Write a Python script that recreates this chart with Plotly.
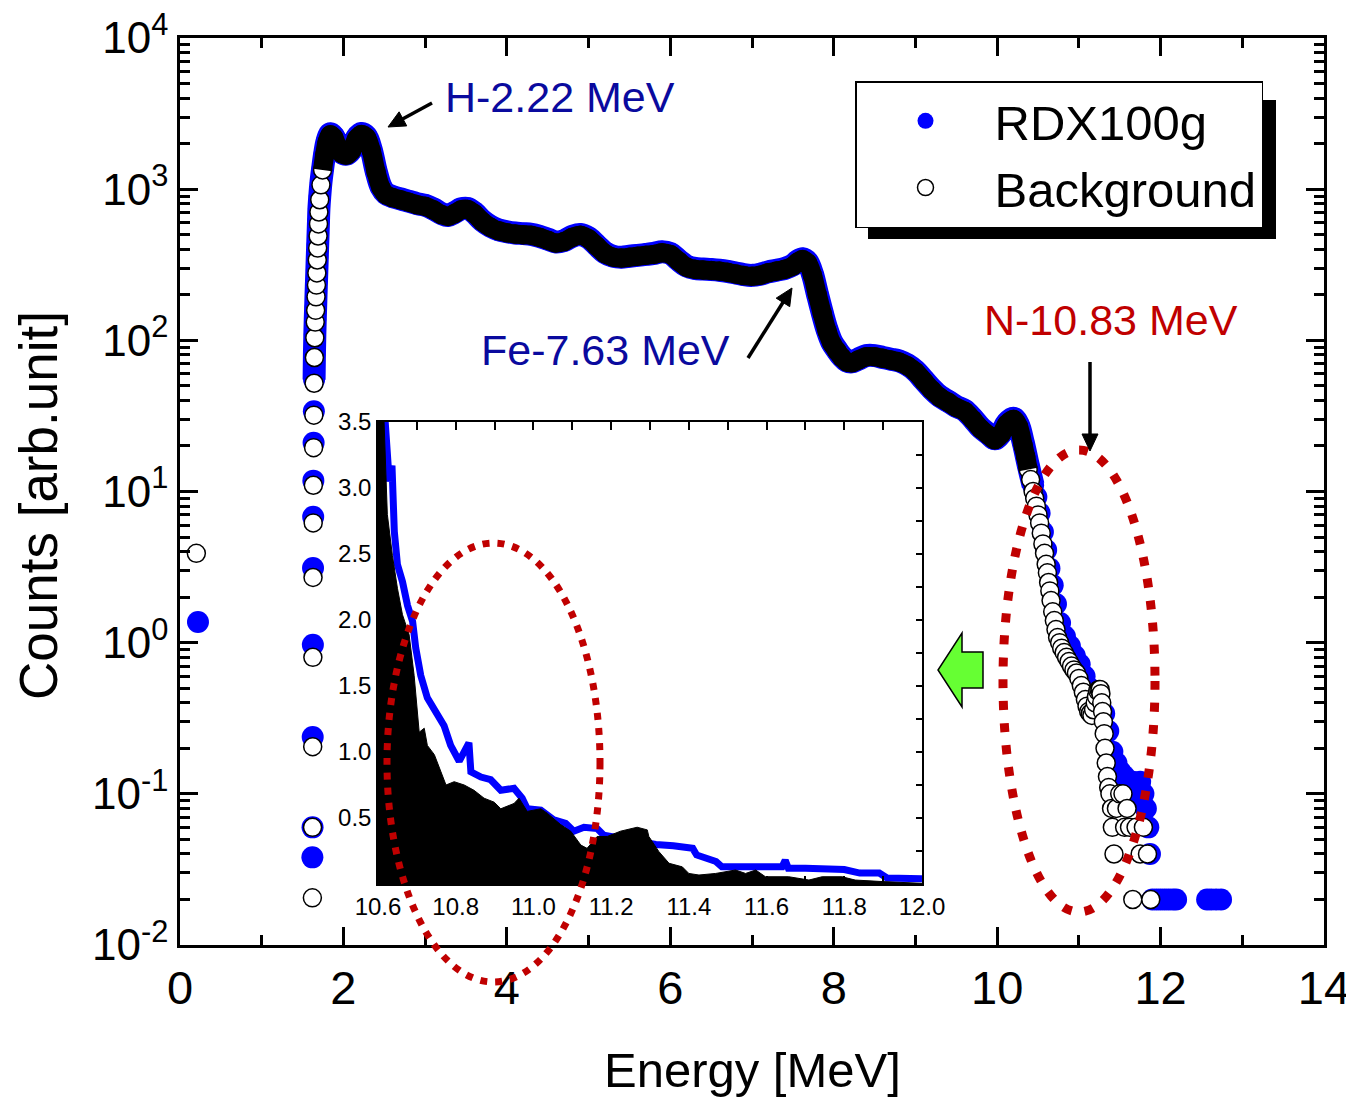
import math
import plotly.graph_objects as go

# ---------------- data ----------------
# Main spectrum: Background
bg_E = [0.20, 1.620, 1.622, 1.624, 1.626, 1.628, 1.630, 1.632, 1.635, 1.638, 1.641, 1.645,
        1.650, 1.655, 1.660, 1.665, 1.670, 1.675, 1.680, 1.685, 1.690, 1.695, 1.700, 1.710,
        1.725, 1.745, 1.77, 1.80, 1.84, 1.88, 1.93, 1.98, 2.04, 2.10, 2.16, 2.22, 2.28, 2.34,
        2.40, 2.46, 2.52, 2.60, 2.70, 2.80, 2.90, 3.00, 3.10, 3.20, 3.28, 3.36, 3.44, 3.52,
        3.60, 3.70, 3.80, 3.90, 4.00, 4.10, 4.20, 4.30, 4.40, 4.50, 4.60, 4.70, 4.80, 4.90,
        5.00, 5.10, 5.20, 5.30, 5.40, 5.50, 5.60, 5.70, 5.80, 5.90, 6.00, 6.10, 6.20, 6.30,
        6.40, 6.50, 6.60, 6.70, 6.80, 6.90, 7.00, 7.10, 7.20, 7.30, 7.40, 7.50, 7.56, 7.62,
        7.68, 7.74, 7.80, 7.86, 7.92, 7.98, 8.04, 8.10, 8.16, 8.22, 8.30, 8.40, 8.50, 8.60,
        8.70, 8.80, 8.90, 9.00, 9.10, 9.20, 9.30, 9.40, 9.50, 9.60, 9.70, 9.80, 9.90, 9.97,
        10.05, 10.12, 10.20, 10.26, 10.32, 10.35, 10.38, 10.41, 10.44, 10.46, 10.48, 10.50,
        10.52, 10.54, 10.56, 10.58, 10.60, 10.615, 10.63, 10.645, 10.66, 10.68, 10.70, 10.72,
        10.74, 10.765, 10.79, 10.82, 10.85, 10.88, 10.91, 10.94, 10.97, 11.00, 11.03, 11.055,
        11.08, 11.10, 11.12, 11.14, 11.16, 11.18, 11.20, 11.215, 11.23, 11.245, 11.26, 11.27,
        11.28, 11.29, 11.30, 11.31, 11.32, 11.335, 11.35, 11.365, 11.38, 11.40, 11.41, 11.43,
        11.46, 11.50, 11.54, 11.56, 11.59, 11.62, 11.66, 11.70, 11.75, 11.79, 11.84, 11.88]
bg_counts = [3.9, 0.0205, 0.06, 0.205, 0.8, 2.7, 6.2, 11, 19.5, 32, 52, 77,
             104, 132, 158, 194, 232, 279, 340, 408, 490, 589, 706, 851,
             1068, 1340, 1680, 2050, 2290, 2200, 1900, 1720, 1680, 1800, 2150, 2300, 2200, 1800,
             1300, 1020, 920, 880, 850, 820, 790, 770, 730, 680, 660, 690, 730, 735,
             690, 610, 560, 530, 515, 505, 500, 495, 480, 460, 440, 450, 480, 495,
             470, 420, 375, 355, 350, 355, 360, 365, 370, 380, 370, 335, 305, 295,
             292, 290, 287, 282, 275, 268, 265, 270, 280, 287, 295, 310, 330, 342,
             325, 270, 200, 150, 115, 95, 85, 77, 72, 71, 74, 78, 78, 76,
             74, 72, 68, 62, 54, 47, 42, 39, 36, 34, 30, 26, 23.5, 22,
             24, 28, 30, 27, 20, 17, 14, 12, 10, 9, 8, 7,
             6.2, 5.3, 4.5, 3.9, 3.3, 2.9, 2.5, 2.2, 1.9, 1.6, 1.4, 1.22,
             1.08, 1.0, 0.92, 0.86, 0.80, 0.75, 0.70, 0.66, 0.63, 0.58, 0.52, 0.47,
             0.42, 0.38, 0.35, 0.34, 0.33, 0.36, 0.40, 0.44, 0.48, 0.49, 0.49, 0.46,
             0.40, 0.35, 0.30, 0.25, 0.20, 0.16, 0.13, 0.11, 0.10, 0.08, 0.06, 0.04,
             0.08, 0.10, 0.10, 0.06, 0.08, 0.06, 0.02, 0.06, 0.04, 0.06, 0.04, 0.02]

# Main spectrum: RDX100g
rdx_E = [0.22, 1.620, 1.622, 1.624, 1.626, 1.628, 1.630, 1.632, 1.635, 1.638, 1.641, 1.645,
         1.650, 1.655, 1.660, 1.665, 1.670, 1.675, 1.680, 1.685, 1.690, 1.695, 1.700, 1.710,
         1.725, 1.745, 1.77, 1.80, 1.84, 1.88, 1.93, 1.98, 2.04, 2.10, 2.16, 2.22, 2.28, 2.34,
         2.40, 2.46, 2.52, 2.60, 2.70, 2.80, 2.90, 3.00, 3.10, 3.20, 3.28, 3.36, 3.44, 3.52,
         3.60, 3.70, 3.80, 3.90, 4.00, 4.10, 4.20, 4.30, 4.40, 4.50, 4.60, 4.70, 4.80, 4.90,
         5.00, 5.10, 5.20, 5.30, 5.40, 5.50, 5.60, 5.70, 5.80, 5.90, 6.00, 6.10, 6.20, 6.30,
         6.40, 6.50, 6.60, 6.70, 6.80, 6.90, 7.00, 7.10, 7.20, 7.30, 7.40, 7.50, 7.56, 7.62,
         7.68, 7.74, 7.80, 7.86, 7.92, 7.98, 8.04, 8.10, 8.16, 8.22, 8.30, 8.40, 8.50, 8.60,
         8.70, 8.80, 8.90, 9.00, 9.10, 9.20, 9.30, 9.40, 9.50, 9.60, 9.70, 9.80, 9.90, 9.97,
         10.05, 10.12, 10.20, 10.26, 10.32, 10.38, 10.44, 10.48, 10.52, 10.56, 10.60, 10.64,
         10.68, 10.72, 10.77, 10.83, 10.89, 10.95, 11.01, 11.07, 11.13, 11.19, 11.25, 11.31,
         11.36, 11.41, 11.46, 11.51, 11.56, 11.61, 11.66, 11.71, 11.75, 11.79, 11.82, 11.85,
         11.87, 11.90, 11.95, 12.00, 12.05, 12.10, 12.15, 12.19, 12.57, 12.62, 12.68, 12.74]
rdx_counts = [1.37, 0.038, 0.06, 0.238, 0.967, 3.12, 6.8, 11.8, 21, 34, 55, 81,
              109, 138, 166, 203, 243, 292, 356, 427, 512, 616, 738, 890,
              1110, 1360, 1705, 2080, 2325, 2235, 1930, 1745, 1705, 1830, 2180, 2335, 2235, 1830,
              1320, 1035, 935, 893, 863, 832, 802, 782, 741, 690, 670, 700, 741, 746,
              700, 619, 568, 538, 523, 513, 508, 502, 487, 467, 447, 457, 487, 502,
              477, 426, 381, 360, 355, 360, 365, 370, 376, 386, 376, 340, 310, 299,
              296, 294, 291, 286, 279, 272, 269, 274, 284, 291, 299, 315, 335, 347,
              330, 274, 203, 152, 117, 96.5, 86.3, 78.2, 73.1, 72, 75.1, 79.2, 79.2, 77.1,
              75.1, 73.1, 69, 62.9, 54.8, 47.7, 42.6, 39.6, 36.5, 34.5, 30.5, 26.4, 23.9, 22.3,
              24.4, 28.4, 30.5, 27.6, 21, 15, 11, 9.2, 7.2, 5.4, 4.1, 3.1,
              2.4, 1.8, 1.35, 1.1, 0.95, 0.82, 0.72, 0.60, 0.50, 0.44, 0.40, 0.34,
              0.26, 0.19, 0.16, 0.14, 0.13, 0.12, 0.12, 0.10, 0.12, 0.10, 0.08, 0.06,
              0.04, 0.02, 0.02, 0.02, 0.02, 0.02, 0.02, 0.02, 0.02, 0.02, 0.02, 0.02]

# Inset (10.6 - 12.0 MeV, linear scale)
inset_rdx_E = [10.600, 10.616, 10.629, 10.636, 10.642, 10.650, 10.663, 10.676, 10.689, 10.697,
               10.710, 10.727, 10.749, 10.770, 10.787, 10.809, 10.834, 10.839, 10.865, 10.890,
               10.916, 10.950, 10.971, 10.984, 11.019, 11.053, 11.083, 11.104, 11.130, 11.164,
               11.181, 11.230, 11.280, 11.315, 11.360, 11.410, 11.420, 11.445, 11.470, 11.485,
               11.540, 11.600, 11.640, 11.648, 11.656, 11.700, 11.750, 11.800, 11.840, 11.890,
               11.910, 11.950, 12.000]
inset_rdx_counts = [4.3, 3.5, 3.05, 3.17, 2.67, 2.42, 2.29, 2.11, 1.99, 1.79,
                    1.58, 1.41, 1.31, 1.20, 1.05, 0.93, 1.07, 0.85, 0.81, 0.79,
                    0.71, 0.725, 0.65, 0.57, 0.56, 0.485, 0.46, 0.40, 0.43, 0.42,
                    0.37, 0.34, 0.31, 0.30, 0.29, 0.27, 0.22, 0.20, 0.17, 0.13,
                    0.13, 0.13, 0.13, 0.18, 0.12, 0.12, 0.115, 0.11, 0.083, 0.083,
                    0.045, 0.045, 0.04]
inset_bg_E = [10.600, 10.612, 10.624, 10.637, 10.650, 10.663, 10.680, 10.693, 10.706, 10.719,
              10.727, 10.745, 10.762, 10.775, 10.796, 10.822, 10.847, 10.873, 10.899, 10.916,
              10.950, 10.963, 10.984, 11.019, 11.036, 11.070, 11.096, 11.122, 11.138, 11.164,
              11.190, 11.224, 11.267, 11.293, 11.297, 11.323, 11.349, 11.383, 11.400, 11.426,
              11.469, 11.520, 11.546, 11.572, 11.597, 11.657, 11.709, 11.743, 11.794, 11.828,
              11.900, 11.983, 12.000]
inset_bg_counts = [4.5, 3.8, 2.8, 2.49, 2.24, 2.04, 1.89, 1.58, 1.15, 1.18,
                   1.05, 0.98, 0.85, 0.75, 0.775, 0.75, 0.71, 0.65, 0.62, 0.57,
                   0.61, 0.65, 0.55, 0.57, 0.535, 0.45, 0.40, 0.295, 0.27, 0.36,
                   0.36, 0.40, 0.43, 0.41, 0.36, 0.245, 0.157, 0.13, 0.08, 0.068,
                   0.08, 0.106, 0.08, 0.106, 0.055, 0.055, 0.03, 0.055, 0.055, 0.03,
                   0.018, 0.005, 0.005]

x_ticks = [0, 2, 4, 6, 8, 10, 12, 14]
y_ticks = [1e-2, 1e-1, 1e0, 1e1, 1e2, 1e3, 1e4]
y_ticktext = ["10<sup>-2</sup>", "10<sup>-1</sup>", "10<sup>0</sup>", "10<sup>1</sup>",
              "10<sup>2</sup>", "10<sup>3</sup>", "10<sup>4</sup>"]
inset_x_ticks = [10.6, 10.8, 11.0, 11.2, 11.4, 11.6, 11.8, 12.0]
inset_y_ticks = [0.5, 1.0, 1.5, 2.0, 2.5, 3.0, 3.5]

# ---------------- layout helpers ----------------
# The page body adds an 8 px margin, so the figure itself is 8 px smaller and
# all reference pixel positions are shifted by that offset.
OFF = 8
W, H = 1354 - OFF, 1102 - OFF
L, R, T, B = 180, 1324, 38, 945   # plot area in reference (page) pixels


def px(x):
    return (x - L) / (R - L)


def py(y):
    return (B - y) / (B - T)


FONT = "Liberation Sans, Arial, sans-serif"
BLUE = "#0000ff"
DBLUE = "#0a0a9e"
DRED = "#c00000"

# points drawn as a dense continuous band (smooth part of the spectrum)
rdx_band = [(e, c) for e, c in zip(rdx_E, rdx_counts) if 1.641 <= e <= 10.44]
bg_band = [(e, c) for e, c in zip(bg_E, bg_counts) if 1.745 <= e <= 10.38]

fig = go.Figure()

fig.add_trace(go.Scatter(x=[p[0] for p in rdx_band], y=[p[1] for p in rdx_band],
                         mode="lines", line=dict(color=BLUE, width=23, shape="spline"),
                         showlegend=False, hoverinfo="skip"))
fig.add_trace(go.Scatter(x=rdx_E, y=rdx_counts, mode="markers", name="RDX100g",
                         marker=dict(size=22, color=BLUE, line=dict(width=0))))
fig.add_trace(go.Scatter(x=bg_E, y=bg_counts, mode="markers", name="Background",
                         marker=dict(size=18, color="white", line=dict(width=1.5, color="black"))))
fig.add_trace(go.Scatter(x=[p[0] for p in bg_band], y=[p[1] for p in bg_band],
                         mode="lines", line=dict(color="black", width=19, shape="spline"),
                         showlegend=False, hoverinfo="skip"))

# inset
fig.add_trace(go.Scatter(x=inset_rdx_E, y=inset_rdx_counts, mode="lines", xaxis="x2", yaxis="y2",
                         line=dict(color=BLUE, width=7), showlegend=False))
fig.add_trace(go.Scatter(x=inset_bg_E, y=inset_bg_counts, mode="lines", xaxis="x2", yaxis="y2",
                         line=dict(color="black", width=1), fill="tozeroy", fillcolor="black",
                         showlegend=False))

axis_common = dict(showgrid=False, zeroline=False, showline=True, linecolor="black",
                   mirror="ticks", ticks="inside", tickcolor="black", automargin=False,
                   ticklabeloverflow="allow")

fig.update_layout(
    width=W, height=H, autosize=False,
    margin=dict(l=L - OFF, r=W - (R - OFF), t=T - OFF, b=H - (B - OFF)),
    paper_bgcolor="white", plot_bgcolor="white",
    font=dict(family=FONT, color="black"),
    xaxis=dict(**axis_common, range=[0, 14], tickvals=x_ticks, linewidth=2.5, tickwidth=2.5,
               ticklen=18, tickfont=dict(size=47, family=FONT),
               minor=dict(dtick=1, ticks="inside", ticklen=10, tickwidth=2.5, tickcolor="black")),
    yaxis=dict(**axis_common, type="log", range=[-2, 4], tickvals=y_ticks, ticktext=y_ticktext,
               linewidth=2.5, tickwidth=2.5, ticklen=18, tickfont=dict(size=44, family=FONT),
               minor=dict(tickvals=[m * 10 ** k for k in range(-2, 4) for m in range(2, 10)],
                          ticks="inside", ticklen=10, tickwidth=2.5, tickcolor="black")),
    xaxis2=dict(**axis_common, domain=[px(378), px(922)], anchor="y2", range=[10.6, 12.0],
                tickvals=inset_x_ticks, ticktext=[f"{v:.1f}" for v in inset_x_ticks],
                linewidth=1.5, tickwidth=1.5, ticklen=8, tickfont=dict(size=24, family=FONT),
                minor=dict(dtick=0.1, ticks="inside", ticklen=8, tickwidth=1.5, tickcolor="black")),
    yaxis2=dict(**axis_common, domain=[py(884), py(422)], anchor="x2", range=[0, 3.5],
                tickvals=inset_y_ticks, ticktext=[f"{v:.1f}" for v in inset_y_ticks],
                linewidth=1.5, tickwidth=1.5, ticklen=6, tickfont=dict(size=24, family=FONT),
                minor=dict(dtick=0.25, ticks="inside", ticklen=6, tickwidth=1.5, tickcolor="black")),
    legend=dict(x=px(855), y=py(81), xanchor="left", yanchor="top", bgcolor="white",
                bordercolor="black", borderwidth=1.5, font=dict(size=49, family=FONT, color="black"),
                itemwidth=128, tracegroupgap=0, itemsizing="trace"),
)

shapes = []
# legend drop shadow
shapes.append(dict(type="rect", xref="paper", yref="paper", x0=px(868), x1=px(1276),
                   y0=py(239), y1=py(100), fillcolor="black", line=dict(width=0), layer="above"))
# red dotted ellipses
shapes.append(dict(type="circle", xref="paper", yref="paper", x0=px(1003), x1=px(1155),
                   y0=py(912), y1=py(450), line=dict(color=DRED, width=9, dash="9px,13px"),
                   layer="above"))
shapes.append(dict(type="circle", xref="paper", yref="paper", x0=px(387), x1=px(600),
                   y0=py(982), y1=py(543), line=dict(color=DRED, width=7, dash="7px,8px"),
                   layer="above"))
# green block arrow
pts = [(983, 652), (962, 652), (962, 633), (938, 670), (962, 707), (962, 688), (983, 688)]
path = "M " + " L ".join(f"{px(a):.5f},{py(b):.5f}" for a, b in pts) + " Z"
shapes.append(dict(type="path", xref="paper", yref="paper", path=path, fillcolor="#66ff33",
                   line=dict(color="black", width=1.5), layer="above"))


def arrow_shapes(tx, ty, hx, hy, head_len=17, head_half=8, width=3.5):
    dx, dy = hx - tx, hy - ty
    n = math.hypot(dx, dy)
    ux, uy = dx / n, dy / n
    bx, by = hx - head_len * ux, hy - head_len * uy
    nx, ny = -uy, ux
    tri = [(hx, hy), (bx + head_half * nx, by + head_half * ny), (bx - head_half * nx, by - head_half * ny)]
    p = "M " + " L ".join(f"{px(a):.5f},{py(b):.5f}" for a, b in tri) + " Z"
    return [dict(type="line", xref="paper", yref="paper", x0=px(tx), y0=py(ty), x1=px(bx + 2 * ux),
                 y1=py(by + 2 * uy), line=dict(color="black", width=width), layer="above"),
            dict(type="path", xref="paper", yref="paper", path=p, fillcolor="black",
                 line=dict(color="black", width=1), layer="above")]


shapes += arrow_shapes(432, 103, 388, 127)
shapes += arrow_shapes(748, 358, 792, 288)
shapes += arrow_shapes(1090, 362, 1090, 451)
fig.update_layout(shapes=shapes)

ann = []
def label(x, y, text, size, color, angle=0):
    return dict(x=px(x), y=py(y), xref="paper", yref="paper", text=text, showarrow=False,
                xanchor="center", yanchor="middle", textangle=angle,
                font=dict(size=size, color=color, family=FONT))

ann.append(label(560, 97, "H-2.22 MeV", 43, DBLUE))
ann.append(label(605, 350, "Fe-7.63 MeV", 43, DBLUE))
ann.append(label(1111, 320, "N-10.83 MeV", 43, DRED))
ann.append(label(752, 1070, "Energy [MeV]", 49, "black"))
ann.append(label(38, 506, "Counts [arb.unit]", 53, "black", angle=-90))
fig.update_layout(annotations=ann)

fig.write_html("out.html")
